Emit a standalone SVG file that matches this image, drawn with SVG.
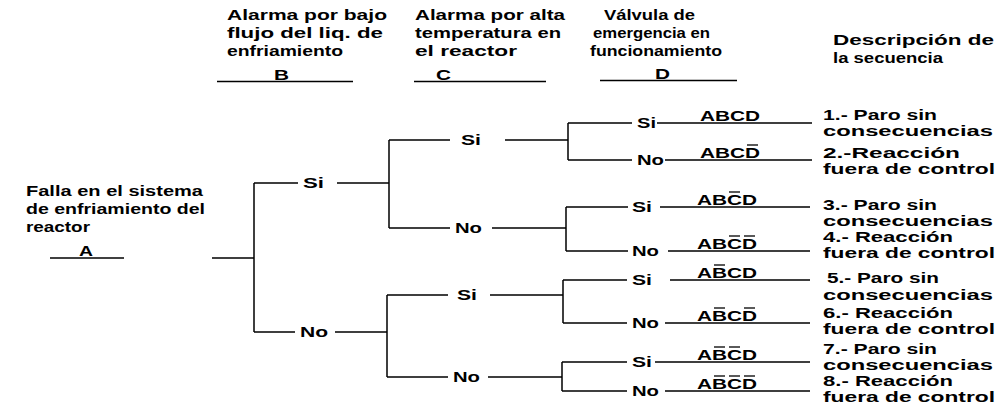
<svg xmlns="http://www.w3.org/2000/svg" width="997" height="408" viewBox="0 0 997 408">
<style>
.t{font-family:"Liberation Sans",Arial,sans-serif;font-weight:bold;font-size:15px;fill:#000}
.d{font-size:14.5px}
.c{stroke:#000;stroke-width:1.5;fill:none}
.u{stroke:#000;stroke-width:1.3;fill:none}
</style>
<rect width="997" height="408" fill="#fff"/>
<g id="header-B">
<text class="t" x="227" y="20" textLength="160" lengthAdjust="spacingAndGlyphs">Alarma por bajo</text>
<text class="t" x="227" y="38" textLength="156" lengthAdjust="spacingAndGlyphs">flujo del liq. de</text>
<text class="t" x="227" y="56" textLength="116" lengthAdjust="spacingAndGlyphs">enfriamiento</text>
<text class="t" x="274" y="80" textLength="15" lengthAdjust="spacingAndGlyphs">B</text>
<line class="u" x1="217" y1="81.5" x2="353" y2="81.5"/>
</g>
<g id="header-C">
<text class="t" x="415" y="20" textLength="150" lengthAdjust="spacingAndGlyphs">Alarma por alta</text>
<text class="t" x="415" y="38" textLength="146" lengthAdjust="spacingAndGlyphs">temperatura en</text>
<text class="t" x="415" y="56" textLength="102" lengthAdjust="spacingAndGlyphs">el reactor</text>
<text class="t" x="436" y="80" textLength="15" lengthAdjust="spacingAndGlyphs">C</text>
<line class="u" x1="414" y1="81.5" x2="546" y2="81.5"/>
</g>
<g id="header-D">
<text class="t" x="604" y="20" textLength="91" lengthAdjust="spacingAndGlyphs">Válvula de</text>
<text class="t" x="593" y="38" textLength="117" lengthAdjust="spacingAndGlyphs">emergencia en</text>
<text class="t" x="590" y="56" textLength="132" lengthAdjust="spacingAndGlyphs">funcionamiento</text>
<text class="t" x="655" y="79" textLength="15" lengthAdjust="spacingAndGlyphs">D</text>
<line class="u" x1="600" y1="80.5" x2="737" y2="80.5"/>
</g>
<g id="header-desc">
<text class="t" x="833" y="45" textLength="161" lengthAdjust="spacingAndGlyphs">Descripción de</text>
<text class="t" x="833" y="63" textLength="110" lengthAdjust="spacingAndGlyphs">la secuencia</text>
</g>
<g id="node-A">
<text class="t" x="26" y="196" textLength="177" lengthAdjust="spacingAndGlyphs">Falla en el sistema</text>
<text class="t" x="26" y="214" textLength="179" lengthAdjust="spacingAndGlyphs">de enfriamiento del</text>
<text class="t" x="26" y="232" textLength="64" lengthAdjust="spacingAndGlyphs">reactor</text>
<text class="t" x="79" y="256" textLength="14" lengthAdjust="spacingAndGlyphs">A</text>
<line class="u" x1="50" y1="258" x2="124" y2="258"/>
</g>
<g id="node-B-si"><text class="t" x="303" y="188" textLength="21" lengthAdjust="spacingAndGlyphs">Si</text></g>
<g id="node-B-no"><text class="t" x="300" y="337" textLength="28" lengthAdjust="spacingAndGlyphs">No</text></g>
<g id="node-C1-si"><text class="t" x="461" y="145" textLength="20" lengthAdjust="spacingAndGlyphs">Si</text></g>
<g id="node-C1-no"><text class="t" x="455" y="233" textLength="27" lengthAdjust="spacingAndGlyphs">No</text></g>
<g id="node-C2-si"><text class="t" x="457" y="300" textLength="20" lengthAdjust="spacingAndGlyphs">Si</text></g>
<g id="node-C2-no"><text class="t" x="453" y="382" textLength="27" lengthAdjust="spacingAndGlyphs">No</text></g>

<g id="leaf-1">
<text class="t" x="637" y="128" textLength="19" lengthAdjust="spacingAndGlyphs">Si</text>
<text class="t" x="700" y="121" textLength="60" lengthAdjust="spacingAndGlyphs">ABCD</text>
<text class="t d" x="823" y="120" textLength="114" lengthAdjust="spacingAndGlyphs">1.- Paro sin</text>
<text class="t d" x="823" y="136" textLength="170" lengthAdjust="spacingAndGlyphs">consecuencias</text>
</g>
<g id="leaf-2">
<text class="t" x="637" y="165" textLength="27" lengthAdjust="spacingAndGlyphs">No</text>
<text class="t" x="700" y="158" textLength="60" lengthAdjust="spacingAndGlyphs">ABCD</text>
<line class="u" x1="747" y1="145" x2="758" y2="145"/>
<text class="t d" x="823" y="158" textLength="137" lengthAdjust="spacingAndGlyphs">2.-Reacción</text>
<text class="t d" x="823" y="174" textLength="172" lengthAdjust="spacingAndGlyphs">fuera de control</text>
</g>
<g id="leaf-3">
<text class="t" x="632" y="212" textLength="20" lengthAdjust="spacingAndGlyphs">Si</text>
<text class="t" x="697" y="205" textLength="60" lengthAdjust="spacingAndGlyphs">ABCD</text>
<line class="u" x1="729" y1="192" x2="740" y2="192"/>
<text class="t d" x="823" y="210" textLength="114" lengthAdjust="spacingAndGlyphs">3.- Paro sin</text>
<text class="t d" x="823" y="226" textLength="170" lengthAdjust="spacingAndGlyphs">consecuencias</text>
</g>
<g id="leaf-4">
<text class="t" x="632" y="256" textLength="27" lengthAdjust="spacingAndGlyphs">No</text>
<text class="t" x="697" y="249" textLength="60" lengthAdjust="spacingAndGlyphs">ABCD</text>
<line class="u" x1="729" y1="236" x2="740" y2="236"/>
<line class="u" x1="744" y1="236" x2="755" y2="236"/>
<text class="t d" x="823" y="242" textLength="130" lengthAdjust="spacingAndGlyphs">4.- Reacción</text>
<text class="t d" x="823" y="258" textLength="172" lengthAdjust="spacingAndGlyphs">fuera de control</text>
</g>
<g id="leaf-5">
<text class="t" x="632" y="285" textLength="20" lengthAdjust="spacingAndGlyphs">Si</text>
<text class="t" x="697" y="278" textLength="60" lengthAdjust="spacingAndGlyphs">ABCD</text>
<line class="u" x1="714" y1="265" x2="725" y2="265"/>
<text class="t d" x="827" y="283" textLength="112" lengthAdjust="spacingAndGlyphs">5.- Paro sin</text>
<text class="t d" x="823" y="300" textLength="170" lengthAdjust="spacingAndGlyphs">consecuencias</text>
</g>
<g id="leaf-6">
<text class="t" x="632" y="328" textLength="27" lengthAdjust="spacingAndGlyphs">No</text>
<text class="t" x="697" y="321" textLength="60" lengthAdjust="spacingAndGlyphs">ABCD</text>
<line class="u" x1="714" y1="308" x2="725" y2="308"/>
<line class="u" x1="744" y1="308" x2="755" y2="308"/>
<text class="t d" x="823" y="318" textLength="130" lengthAdjust="spacingAndGlyphs">6.- Reacción</text>
<text class="t d" x="823" y="334" textLength="172" lengthAdjust="spacingAndGlyphs">fuera de control</text>
</g>
<g id="leaf-7">
<text class="t" x="632" y="367" textLength="20" lengthAdjust="spacingAndGlyphs">Si</text>
<text class="t" x="697" y="360" textLength="60" lengthAdjust="spacingAndGlyphs">ABCD</text>
<line class="u" x1="714" y1="347" x2="725" y2="347"/>
<line class="u" x1="729" y1="347" x2="740" y2="347"/>
<text class="t d" x="823" y="354" textLength="114" lengthAdjust="spacingAndGlyphs">7.- Paro sin</text>
<text class="t d" x="823" y="370" textLength="170" lengthAdjust="spacingAndGlyphs">consecuencias</text>
</g>
<g id="leaf-8">
<text class="t" x="632" y="396" textLength="27" lengthAdjust="spacingAndGlyphs">No</text>
<text class="t" x="697" y="389" textLength="60" lengthAdjust="spacingAndGlyphs">ABCD</text>
<line class="u" x1="714" y1="376" x2="725" y2="376"/>
<line class="u" x1="729" y1="376" x2="740" y2="376"/>
<line class="u" x1="744" y1="376" x2="755" y2="376"/>
<text class="t d" x="823" y="386" textLength="130" lengthAdjust="spacingAndGlyphs">8.- Reacción</text>
<text class="t d" x="823" y="402" textLength="172" lengthAdjust="spacingAndGlyphs">fuera de control</text>
</g>

<g id="connectors">
<path class="c" d="M212 258H254M254 183V332"/>
<path class="c" d="M254 183H298M337 183H389"/>
<path class="c" d="M254 332H295M335 332H387"/>
<path class="c" d="M389 140V228M389 140H450M505 140H568M389 228H450M492 228H566"/>
<path class="c" d="M387 295V377M387 295H448M490 295H563M387 377H448M488 377H562"/>
<path class="c" d="M568 123V160M568 123H632M657 123H812M568 160H632M665 160H812"/>
<path class="c" d="M566 207V251M566 207H628M660 207H810M566 251H628M668 251H810"/>
<path class="c" d="M563 280V323M563 280H627M670 280H810M563 323H627M665 323H810"/>
<path class="c" d="M562 362V391M562 362H627M655 362H810M562 391H627M665 391H810"/>
</g>
</svg>
